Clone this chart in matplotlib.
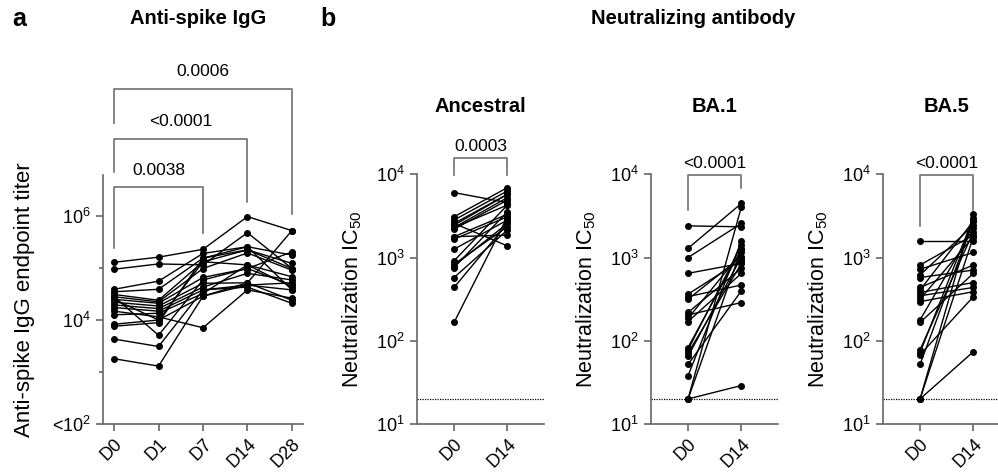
import matplotlib
matplotlib.use('Agg')
import matplotlib.pyplot as plt

plt.rcParams['font.family'] = ['Liberation Sans', 'DejaVu Sans']
plt.rcParams['mathtext.fontset'] = 'custom'
plt.rcParams['mathtext.rm'] = 'Liberation Sans'
plt.rcParams['mathtext.it'] = 'Liberation Sans:italic'
plt.rcParams['mathtext.bf'] = 'Liberation Sans:bold'

# anti-spike IgG endpoint titers, one row per subject: D0, D1, D7, D14, D28
igg_days = ['D0', 'D1', 'D7', 'D14', 'D28']
igg = [
    [129000, 162000, 229000, 977000, 525000],
    [95000, 120000, 115000, 479000, 98000],
    [39000, 56000, 191000, 257000, 178000],
    [35000, 39000, 155000, 224000, 123000],
    [31000, 24000, 132000, 115000, 68000],
    [28000, 22400, 98000, 195000, 91000],
    [25000, 21000, 66000, 98000, 47000],
    [22000, 18600, 51000, 52000, 525000],
    [19500, 16600, 43000, 79000, 59000],
    [17400, 14800, 38000, 47000, 52000],
    [14800, 11500, 7100, 38000, 26300],
    [12600, 13500, 32400, 115000, 43000],
    [8300, 10000, 28800, 52000, 24000],
    [7600, 8900, 155000, 257000, 38000],
    [4300, 3100, 38000, 43000, 21000],
    [1800, 1300, 28800, 47000, 38000],
    [28000, 5100, 59000, 98000, 204000],
    [25000, 10000, 132000, 224000, 98000],
]

# neutralization IC50, D0 and D14
nab_days = ['D0', 'D14']
anc_d0 = [6030, 3090, 2820, 2570, 2450, 2290, 2190, 1780, 1660, 1260, 912, 832, 759, 575, 437, 166, 2290, 1780, 2570, 794]
anc_d14 = [4570, 6920, 6310, 1380, 5750, 5250, 4900, 3310, 3090, 2820, 4270, 2340, 3550, 2140, 2570, 3090, 4270, 1860, 5750, 2570]
ba1_d0 = [2400, 1290, 1000, 646, 363, 339, 316, 219, 204, 186, 170, 83, 78, 71, 65, 52, 38, 20, 20, 20]
ba1_d14 = [2340, 4470, 2570, 851, 933, 468, 1020, 741, 288, 1150, 646, 1260, 1410, 851, 1020, 398, 1580, 4070, 29, 1260]
ba5_d0 = [1580, 813, 724, 617, 575, 437, 407, 380, 347, 316, 295, 178, 166, 78, 72, 68, 52, 20, 20, 20]
ba5_d14 = [1580, 1860, 1150, 2450, 708, 813, 2750, 501, 437, 1780, 389, 2240, 646, 2040, 3020, 339, 2750, 3310, 74, 1780]
lod = 20

SPINE = '#666666'
BRK = '#707070'
FS = 13


def style_axis(ax):
    for s in ['top', 'right']:
        ax.spines[s].set_visible(False)
    for s in ['left', 'bottom']:
        ax.spines[s].set_color(SPINE)
        ax.spines[s].set_linewidth(1.2)
    ax.tick_params(which='both', color=SPINE, width=1.2, labelsize=FS, direction='out')
    ax.tick_params(which='major', length=5)
    ax.tick_params(which='minor', length=3)


def bracket(ax, x0, x1, ytop, yl, yr, text, ytext):
    ax.plot([x0, x0, x1, x1], [yl, ytop, ytop, yr], color=BRK, lw=1.2, clip_on=False)
    ax.text((x0 + x1) / 2, ytext, text, ha='center', va='center', fontsize=12.5, clip_on=False)


fig = plt.figure(figsize=(9.98, 4.76), dpi=100)
W, H = 998, 476


def add_ax(x0, x1, ytop, ybot):
    return fig.add_axes([x0 / W, (H - ybot) / H, (x1 - x0) / W, (ybot - ytop) / H])


# panel a
ax = add_ax(103, 303, 175, 424)
for row in igg:
    ax.plot(range(5), row, '-o', color='black', ms=4, lw=1)
ax.set_yscale('log')
ax.set_ylim(1e2, 10 ** 6.79)
ax.set_xlim(-0.25, 4.25)
ax.set_yticks([1e2, 1e4, 1e6])
ax.set_yticklabels(['<$\\mathregular{10^2}$', '$\\mathregular{10^4}$', '$\\mathregular{10^6}$'])
ax.set_yticks([1e3, 1e5], minor=True)
ax.set_yticklabels([], minor=True)
ax.set_xticks(range(5))
ax.set_xticklabels(igg_days, rotation=45, ha='right', rotation_mode='anchor')
ax.set_ylabel('Anti-spike IgG endpoint titer', fontsize=16, labelpad=12)
style_axis(ax)
bracket(ax, 0, 2, 10 ** 6.56, 10 ** 5.38, 10 ** 5.67, '0.0038', 10 ** 6.88)
bracket(ax, 0, 3, 10 ** 7.49, 10 ** 6.85, 10 ** 6.27, '<0.0001', 10 ** 7.81)
bracket(ax, 0, 4, 10 ** 8.45, 10 ** 7.79, 10 ** 6.04, '0.0006', 10 ** 8.78)

# panel b
panels = [
    ('Ancestral', anc_d0, anc_d14, 416.7, '0.0003', (4.19, 3.99, 3.99)),
    ('BA.1', ba1_d0, ba1_d14, 650.7, '<0.0001', (3.99, 3.57, 3.83)),
    ('BA.5', ba5_d0, ba5_d14, 882.7, '<0.0001', (3.99, 3.38, 3.57)),
]
for name, d0, d14, left, p, (yt, yl, yr) in panels:
    ax = add_ax(left, left + 127, 174.3, 424)
    for a, b in zip(d0, d14):
        ax.plot([0, 1], [a, b], '-o', color='black', ms=4, lw=1)
    ax.axhline(lod, color='black', ls=(0, (1, 1)), lw=0.9)
    ax.set_yscale('log')
    ax.set_ylim(10, 1e4)
    ax.set_xlim(-0.7, 1.68)
    ax.set_yticks([10, 100, 1000, 10000])
    ax.set_yticklabels(['$\\mathregular{10^1}$', '$\\mathregular{10^2}$',
                        '$\\mathregular{10^3}$', '$\\mathregular{10^4}$'])
    ax.yaxis.set_minor_locator(matplotlib.ticker.NullLocator())
    ax.set_xticks([0, 1])
    ax.set_xticklabels(nab_days, rotation=45, ha='right', rotation_mode='anchor')
    ax.set_ylabel('Neutralization IC$_{50}$', fontsize=15.5, labelpad=9)
    style_axis(ax)
    bracket(ax, 0, 1, 10 ** yt, 10 ** yl, 10 ** yr, p, 10 ** (yt + 0.14))
    ax.set_title(name, fontsize=14.5, fontweight='bold', pad=0, y=1.0 + (174.3 - 103) / 249.7 - 0.035)

fig.text(12 / W, 1 - 19 / H, 'a', fontsize=18, fontweight='bold', va='center')
fig.text(320 / W, 1 - 19 / H, 'b', fontsize=18, fontweight='bold', va='center')
fig.text(198 / W, 1 - 18 / H, 'Anti-spike IgG', fontsize=14.5, fontweight='bold', ha='center', va='center')
fig.text(693 / W, 1 - 18 / H, 'Neutralizing antibody', fontsize=14.5, fontweight='bold', ha='center', va='center')

fig.savefig('out.png', dpi=100)
